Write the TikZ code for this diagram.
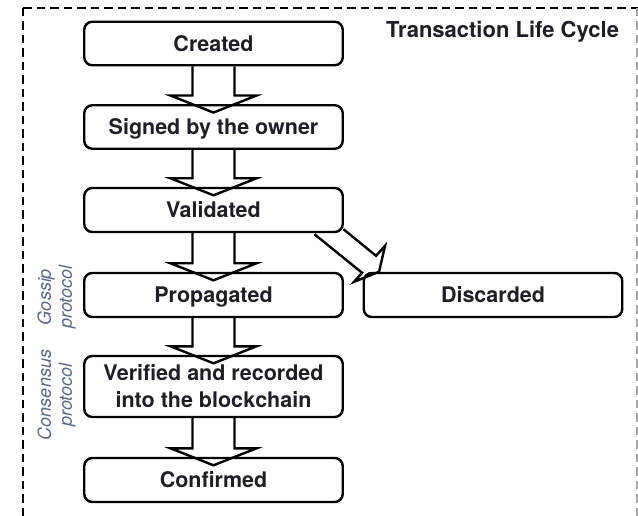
\documentclass[tikz,border=0pt]{standalone}
\usepackage{fontspec}
\setmainfont{TeX Gyre Heros}
\usetikzlibrary{calc}
\definecolor{inkdark}{HTML}{1E1F26}
\definecolor{notegray}{HTML}{5A6784}
\tikzset{
  stagebox/.style={draw=black, line width=2.4pt, rounded corners=8pt,
    minimum width=258.5pt, inner sep=0pt, align=center,
    font=\fontsize{21.5}{26.5}\selectfont\bfseries, text=inkdark,
    text height=15.4pt, text depth=0pt},
  flowline/.style={draw=black, line width=2.4pt, line join=miter},
  % two-line rotated note: height spans cap top of line 1 to baseline of line 2
  sidenote/.style={rotate=90, align=center, text=notegray,
    font=\fontsize{18}{21}\selectfont\itshape, inner sep=0pt,
    text height=33.9pt, text depth=0pt},
  framedash/.style={draw=black, line width=2.2pt, dash pattern=on 8.5pt off 5pt}
}
% hollow block arrow from the bottom of #1 into the top of #2
\newcommand{\hollowdown}[2]{%
  \draw[flowline]
    ($(#1.south)+(-21,0)$) -- ($(#2.north)+(-21,-8.5)$) --
    ($(#2.north)+(-43,-8.5)$) -- ($(#2.north)+(0,8.5)$) --
    ($(#2.north)+(43,-8.5)$) -- ($(#2.north)+(21,-8.5)$) --
    ($(#1.south)+(21,0)$);}
\begin{document}
\begin{tikzpicture}[x=1pt,y=-1pt]
\useasboundingbox (0,0) rectangle (638,516);
% dashed frame around the life cycle
\draw[framedash] (23,8) -- (638,8);
\draw[framedash] (23,8) -- (23,530);
\draw[framedash, draw=black!35] (637.5,8) -- (637.5,530);

\node[anchor=base west, font=\fontsize{22}{26}\selectfont\bfseries, text=inkdark,
  inner sep=0pt] (title) at (386,38) {Transaction Life Cycle};

% stages
\node[stagebox, minimum height=43.5pt] (created)   at (213.5,43.5) {Created};
\node[stagebox, minimum height=43.5pt] (signed)    at (213.5,127)  {Signed by the owner};
\node[stagebox, minimum height=44pt]   (validated) at (213.5,210)  {Validated};
\node[stagebox, minimum height=44pt]   (propagated) at (213.5,295) {Propagated};
\node[stagebox, minimum height=44pt]   (discarded) at (493,295)    {Discarded};
\node[stagebox, minimum height=61pt, text height=41.9pt] (verified) at (213.5,386.5)
  {Verified and recorded\\into the blockchain};
\node[stagebox, minimum height=44pt]   (confirmed) at (213.5,480)  {Confirmed};

% protocol notes
\node[sidenote] (gossip)    at (55,297) {Gossip\\protocol};
\node[sidenote] (consensus) at (55,395) {Consensus\\protocol};

% main flow
\hollowdown{created}{signed}
\hollowdown{signed}{validated}
\hollowdown{validated}{propagated}
\hollowdown{propagated}{verified}
\hollowdown{verified}{confirmed}

% rejection branch
\draw[flowline]
  ($(validated.south east)+(-29.5,1)$) --
  ($(discarded.north west)+(-0.5,1)$) --
  ($(discarded.north west)+(-8.5,10)$) --
  ($(discarded.north west)+(16.5,0)$) --
  ($(discarded.north west)+(22.5,-26)$) --
  ($(discarded.north west)+(13.5,-16)$) --
  ($(validated.south east)+(-0.5,-4)$);
\end{tikzpicture}
\end{document}
